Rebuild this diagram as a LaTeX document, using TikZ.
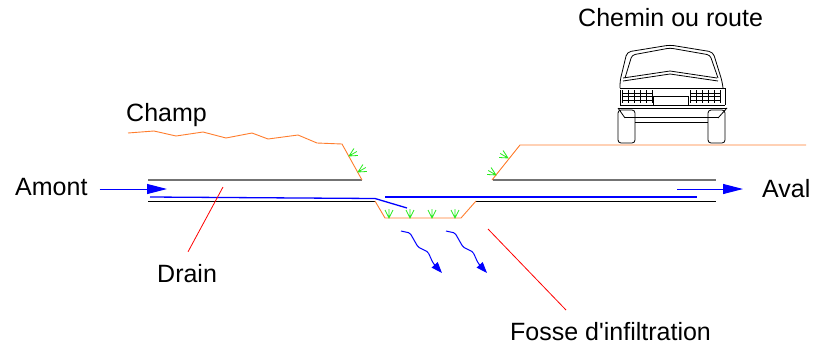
\documentclass[tikz,border=0pt]{standalone}
\usepackage{fontspec}
\setmainfont{Liberation Sans}
\usetikzlibrary{arrows.meta}

\definecolor{soil}{RGB}{255,125,45}
\definecolor{grassgreen}{RGB}{40,235,30}

\begin{document}
\begin{tikzpicture}[
  x=1pt, y=-1pt,
  txt/.style={font=\fontsize{25}{30}\selectfont, inner sep=0pt, anchor=base west},
  ground/.style={draw=soil, line width=0.9pt, line join=round},
  pipetop/.style={line width=1.6pt, black!55},
  pipebot/.style={line width=1pt, black},
  water/.style={line width=1.3pt, blue},
  flowarrow/.style={line width=1pt, blue, -{Triangle[length=20pt,width=10pt]}},
  seep/.style={line width=1pt, blue, rounded corners=1.5pt, -{Triangle[length=11pt,width=8pt]}},
  grass/.style={line width=0.8pt, grassgreen},
  leader/.style={line width=0.8pt, red},
  carline/.style={line width=0.8pt, black}
]
\useasboundingbox (0,0) rectangle (818,346);

% Labels
\node[txt] (champ)  at (126,121) {Champ};
\node[txt] (amont)  at (15,195)  {Amont};
\node[txt] (aval)   at (762,197) {Aval};
\node[txt] (drain)  at (157,282) {Drain};
\node[txt] (fosse)  at (510,340) {Fosse d\textquotesingle infiltration};
\node[txt] (chemin) at (578,26)  {Chemin ou route};

% Drain walls
\draw[pipetop] (148,180) -- (362,180);
\draw[pipetop] (493,180) -- (716,180);
\draw[pipebot] (148,201) -- (375,201);
\draw[pipebot] (476,201) -- (716,201);

% Infiltration ditch
\draw[ground] (375,201) -- (385,218) -- (461,218) -- (476,201);

% Field surface and road embankment
\draw[ground] (128,133) -- (154,131) -- (176,136) -- (203,132) -- (226,138)
  -- (252,133) -- (268,139) -- (298,135) -- (317,143) -- (342,144) -- (362,180);
\draw[ground] (492,180) -- (520,145) -- (806,145);

% Water in the drain
\draw[water] (150,197) -- (375,198.5) -- (407,208);
\draw[water] (385,197) -- (697,197);

% Flow direction
\draw[flowarrow] ([xshift=12pt, yshift=6pt]amont.base east) -- (167,189);
\draw[flowarrow] (677,189) -- ([xshift=-19pt, yshift=8pt]aval.base west);

% Seepage into the soil
\foreach \dx in {0,45}
  \draw[seep, xshift=\dx] (401,231) -- (410,233) -- (418,247) -- (428,252) -- (433,263) -- (442,273);

% Grass tufts
\foreach \bx/\by/\rot in {389/218/0, 410/218/0, 432/218/0, 455/218/0,
                          349/156/-60, 358/172/-60, 508/158/60, 496/175/60}
  \draw[grass, rotate around={\rot:(\bx,\by)}]
    (\bx-4,\by-8) -- (\bx,\by) -- (\bx+4,\by-8) (\bx,\by) -- (\bx,\by-9);

% Leaders
\coordinate (drainpt) at (223,187);
\coordinate (fossept) at (488,229);
\coordinate (fosseend) at (566,310);
\draw[leader] (drainpt) -- ([xshift=1pt, yshift=12pt]drain.north);
\draw[leader] (fossept) -- (fosseend);

% Car seen from behind
\draw[carline, rounded corners=4pt] (620,88) -- (620,81) -- (627,52) -- (670,45) -- (713,52) -- (722,81) -- (723,88);
\draw[carline, rounded corners=3pt] (625,78) -- (632,55) -- (670,48) -- (710,55) -- (718,78);
\draw[carline] (623,78) -- (670,71) -- (717,78);
\draw[carline] (623,81) -- (670,74) -- (718,81);
\draw[carline] (620,88) -- (725,88);
\draw[carline] (620,90) -- (620,105);
\draw[carline] (725,88) -- (725,105);
\foreach \gx in {622,690} {
  \draw[carline] (\gx,93) -- ++(30,0) (\gx,96.5) -- ++(30,0) (\gx,100) -- ++(30,0);
  \foreach \k in {0,...,5}
    \draw[carline] (\gx+6*\k,90) -- ++(0,13);
}
\draw[carline] (653,96) rectangle (688,105);
\draw[carline] (620,105) -- (725,105);
\draw[carline] (618,108) -- (727,108);
\draw[carline] (618,108) -- (625,118);
\draw[carline] (727,108) -- (718,118);
\draw[carline] (625,117) -- (718,117);
\draw[carline] (635,122) -- (708,122);
\draw[carline, rounded corners=3pt] (618,110) rectangle (635,143);
\draw[carline, rounded corners=3pt] (708,110) rectangle (725,143);
\end{tikzpicture}
\end{document}
